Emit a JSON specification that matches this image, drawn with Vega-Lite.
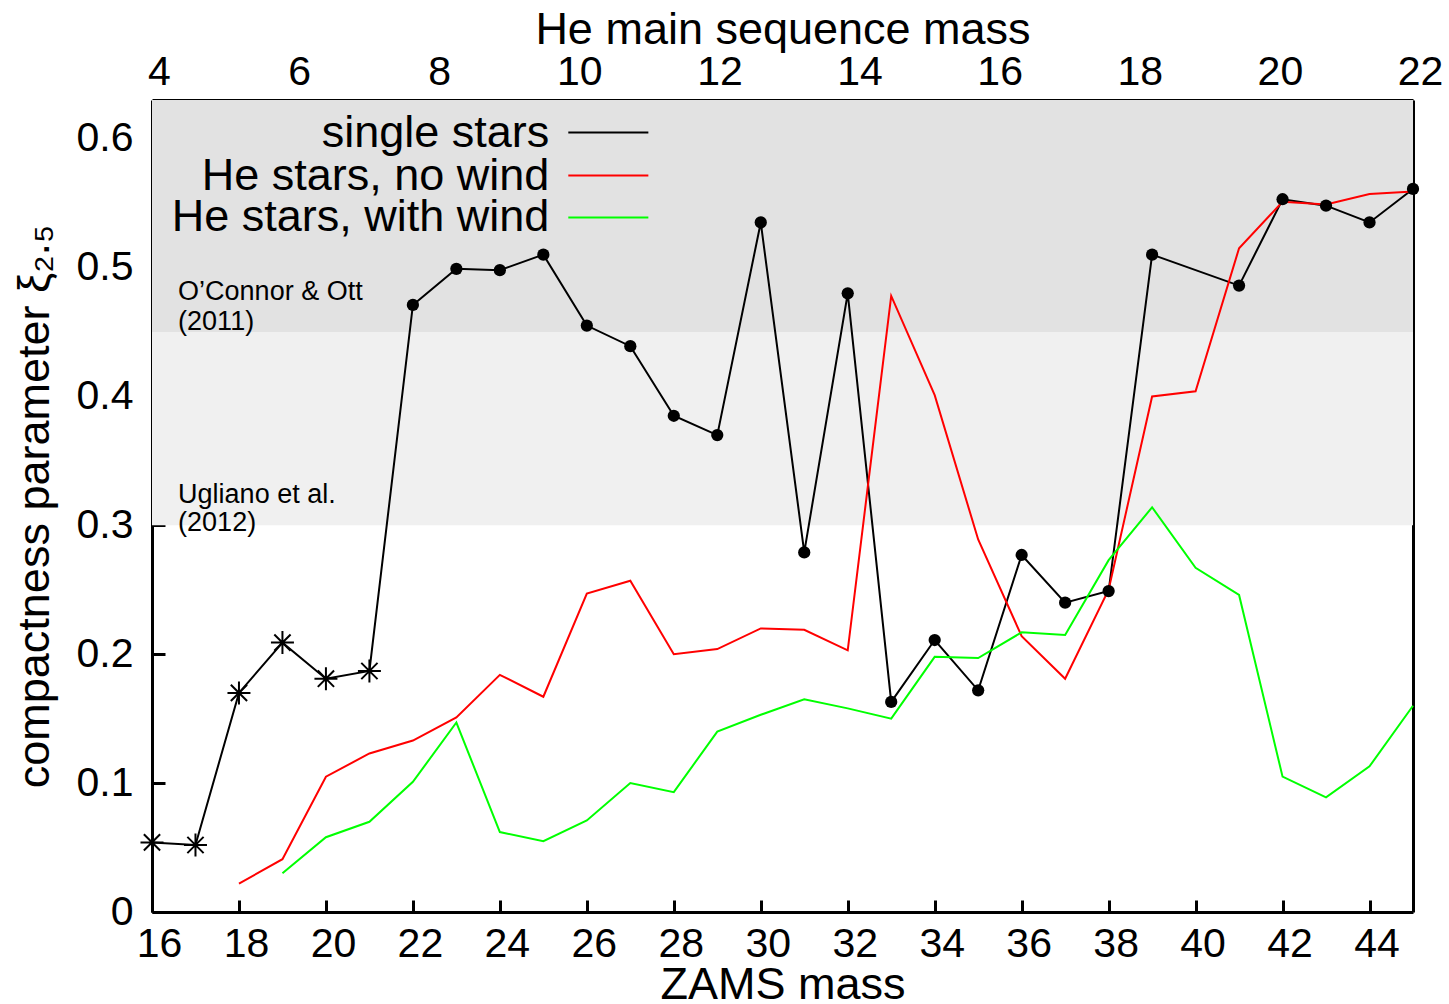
{
  "$schema": "https://vega.github.io/schema/vega-lite/v6.json",
  "width": 1261,
  "height": 812,
  "autosize": {"type": "none"},
  "padding": {"left": 152, "top": 100, "right": 36, "bottom": 92},
  "background": "white",
  "config": {
    "view": {"stroke": null},
    "font": "Liberation Sans",
    "axis": {
      "grid": false,
      "labelFont": "Liberation Sans",
      "titleFont": "Liberation Sans",
      "labelColor": "black",
      "titleColor": "black",
      "titleFontWeight": "normal",
      "domainColor": "black",
      "domainWidth": 3,
      "tickColor": "black",
      "tickWidth": 3,
      "zindex": 1
    },
    "text": {"font": "Liberation Sans", "color": "black"}
  },
  "datasets": {
    "curves": [
      {"m": 16, "xi": 0.054, "series": "single stars"},
      {"m": 17, "xi": 0.052, "series": "single stars"},
      {"m": 18, "xi": 0.170, "series": "single stars"},
      {"m": 19, "xi": 0.209, "series": "single stars"},
      {"m": 20, "xi": 0.181, "series": "single stars"},
      {"m": 21, "xi": 0.187, "series": "single stars"},
      {"m": 22, "xi": 0.471, "series": "single stars"},
      {"m": 23, "xi": 0.499, "series": "single stars"},
      {"m": 24, "xi": 0.498, "series": "single stars"},
      {"m": 25, "xi": 0.510, "series": "single stars"},
      {"m": 26, "xi": 0.455, "series": "single stars"},
      {"m": 27, "xi": 0.439, "series": "single stars"},
      {"m": 28, "xi": 0.385, "series": "single stars"},
      {"m": 29, "xi": 0.370, "series": "single stars"},
      {"m": 30, "xi": 0.535, "series": "single stars"},
      {"m": 31, "xi": 0.279, "series": "single stars"},
      {"m": 32, "xi": 0.480, "series": "single stars"},
      {"m": 33, "xi": 0.163, "series": "single stars"},
      {"m": 34, "xi": 0.211, "series": "single stars"},
      {"m": 35, "xi": 0.172, "series": "single stars"},
      {"m": 36, "xi": 0.277, "series": "single stars"},
      {"m": 37, "xi": 0.240, "series": "single stars"},
      {"m": 38, "xi": 0.249, "series": "single stars"},
      {"m": 39, "xi": 0.510, "series": "single stars"},
      {"m": 41, "xi": 0.486, "series": "single stars"},
      {"m": 42, "xi": 0.553, "series": "single stars"},
      {"m": 43, "xi": 0.548, "series": "single stars"},
      {"m": 44, "xi": 0.535, "series": "single stars"},
      {"m": 45, "xi": 0.561, "series": "single stars"},
      {"m": 18, "xi": 0.022, "series": "He stars, no wind"},
      {"m": 19, "xi": 0.041, "series": "He stars, no wind"},
      {"m": 20, "xi": 0.105, "series": "He stars, no wind"},
      {"m": 21, "xi": 0.123, "series": "He stars, no wind"},
      {"m": 22, "xi": 0.133, "series": "He stars, no wind"},
      {"m": 23, "xi": 0.151, "series": "He stars, no wind"},
      {"m": 24, "xi": 0.184, "series": "He stars, no wind"},
      {"m": 25, "xi": 0.167, "series": "He stars, no wind"},
      {"m": 26, "xi": 0.247, "series": "He stars, no wind"},
      {"m": 27, "xi": 0.257, "series": "He stars, no wind"},
      {"m": 28, "xi": 0.200, "series": "He stars, no wind"},
      {"m": 29, "xi": 0.204, "series": "He stars, no wind"},
      {"m": 30, "xi": 0.220, "series": "He stars, no wind"},
      {"m": 31, "xi": 0.219, "series": "He stars, no wind"},
      {"m": 32, "xi": 0.203, "series": "He stars, no wind"},
      {"m": 33, "xi": 0.478, "series": "He stars, no wind"},
      {"m": 34, "xi": 0.401, "series": "He stars, no wind"},
      {"m": 35, "xi": 0.289, "series": "He stars, no wind"},
      {"m": 36, "xi": 0.214, "series": "He stars, no wind"},
      {"m": 37, "xi": 0.181, "series": "He stars, no wind"},
      {"m": 38, "xi": 0.250, "series": "He stars, no wind"},
      {"m": 39, "xi": 0.400, "series": "He stars, no wind"},
      {"m": 40, "xi": 0.404, "series": "He stars, no wind"},
      {"m": 41, "xi": 0.515, "series": "He stars, no wind"},
      {"m": 42, "xi": 0.551, "series": "He stars, no wind"},
      {"m": 43, "xi": 0.549, "series": "He stars, no wind"},
      {"m": 44, "xi": 0.557, "series": "He stars, no wind"},
      {"m": 45, "xi": 0.559, "series": "He stars, no wind"},
      {"m": 19, "xi": 0.030, "series": "He stars, with wind"},
      {"m": 20, "xi": 0.058, "series": "He stars, with wind"},
      {"m": 21, "xi": 0.070, "series": "He stars, with wind"},
      {"m": 22, "xi": 0.101, "series": "He stars, with wind"},
      {"m": 23, "xi": 0.147, "series": "He stars, with wind"},
      {"m": 24, "xi": 0.062, "series": "He stars, with wind"},
      {"m": 25, "xi": 0.055, "series": "He stars, with wind"},
      {"m": 26, "xi": 0.071, "series": "He stars, with wind"},
      {"m": 27, "xi": 0.100, "series": "He stars, with wind"},
      {"m": 28, "xi": 0.093, "series": "He stars, with wind"},
      {"m": 29, "xi": 0.140, "series": "He stars, with wind"},
      {"m": 30, "xi": 0.153, "series": "He stars, with wind"},
      {"m": 31, "xi": 0.165, "series": "He stars, with wind"},
      {"m": 32, "xi": 0.158, "series": "He stars, with wind"},
      {"m": 33, "xi": 0.150, "series": "He stars, with wind"},
      {"m": 34, "xi": 0.198, "series": "He stars, with wind"},
      {"m": 35, "xi": 0.197, "series": "He stars, with wind"},
      {"m": 36, "xi": 0.217, "series": "He stars, with wind"},
      {"m": 37, "xi": 0.215, "series": "He stars, with wind"},
      {"m": 38, "xi": 0.273, "series": "He stars, with wind"},
      {"m": 39, "xi": 0.314, "series": "He stars, with wind"},
      {"m": 40, "xi": 0.267, "series": "He stars, with wind"},
      {"m": 41, "xi": 0.246, "series": "He stars, with wind"},
      {"m": 42, "xi": 0.105, "series": "He stars, with wind"},
      {"m": 43, "xi": 0.089, "series": "He stars, with wind"},
      {"m": 44, "xi": 0.113, "series": "He stars, with wind"},
      {"m": 45, "xi": 0.160, "series": "He stars, with wind"}
    ]
  },
  "layer": [
    {
      "layer": [
        {
          "data": {"values": [{}]},
          "mark": {"type": "rect", "color": "#e2e2e2"},
          "encoding": {
            "x": {"datum": 16, "type": "quantitative"},
            "x2": {"datum": 45},
            "y": {"datum": 0.45, "type": "quantitative"},
            "y2": {"datum": 0.63}
          }
        },
        {
          "data": {"values": [{}]},
          "mark": {"type": "rect", "color": "#f0f0f0"},
          "encoding": {
            "x": {"datum": 16, "type": "quantitative"},
            "x2": {"datum": 45},
            "y": {"datum": 0.3, "type": "quantitative"},
            "y2": {"datum": 0.45}
          }
        },
        {
          "data": {"values": [{}]},
          "mark": {"type": "text", "align": "left", "baseline": "alphabetic", "fontSize": 27, "lineBreak": "\n", "lineHeight": 30},
          "encoding": {
            "x": {"datum": 16.6, "type": "quantitative"},
            "y": {"datum": 0.4752, "type": "quantitative"},
            "text": {"value": "O’Connor & Ott\n(2011)"}
          }
        },
        {
          "data": {"values": [{}]},
          "mark": {"type": "text", "align": "left", "baseline": "alphabetic", "fontSize": 27, "lineBreak": "\n", "lineHeight": 28},
          "encoding": {
            "x": {"datum": 16.6, "type": "quantitative"},
            "y": {"datum": 0.3175, "type": "quantitative"},
            "text": {"value": "Ugliano et al.\n(2012)"}
          }
        },
        {
          "data": {"values": [{}]},
          "mark": {"type": "text", "align": "right", "baseline": "alphabetic", "fontSize": 45},
          "encoding": {
            "x": {"datum": 25.137, "type": "quantitative"},
            "y": {"datum": 0.5932, "type": "quantitative"},
            "text": {"value": "single stars"}
          }
        },
        {
          "data": {"values": [{}]},
          "mark": {"type": "text", "align": "right", "baseline": "alphabetic", "fontSize": 45},
          "encoding": {
            "x": {"datum": 25.137, "type": "quantitative"},
            "y": {"datum": 0.5602, "type": "quantitative"},
            "text": {"value": "He stars, no wind"}
          }
        },
        {
          "data": {"values": [{}]},
          "mark": {"type": "text", "align": "right", "baseline": "alphabetic", "fontSize": 45},
          "encoding": {
            "x": {"datum": 25.137, "type": "quantitative"},
            "y": {"datum": 0.528, "type": "quantitative"},
            "text": {"value": "He stars, with wind"}
          }
        },
        {
          "data": {"values": [{}]},
          "mark": {"type": "rule", "color": "#000000", "strokeWidth": 2},
          "encoding": {
            "x": {"datum": 25.574, "type": "quantitative"},
            "x2": {"datum": 27.415},
            "y": {"datum": 0.6048, "type": "quantitative"}
          }
        },
        {
          "data": {"values": [{}]},
          "mark": {"type": "rule", "color": "#ff0000", "strokeWidth": 2},
          "encoding": {
            "x": {"datum": 25.574, "type": "quantitative"},
            "x2": {"datum": 27.415},
            "y": {"datum": 0.5714, "type": "quantitative"}
          }
        },
        {
          "data": {"values": [{}]},
          "mark": {"type": "rule", "color": "#00ff00", "strokeWidth": 2},
          "encoding": {
            "x": {"datum": 25.574, "type": "quantitative"},
            "x2": {"datum": 27.415},
            "y": {"datum": 0.5388, "type": "quantitative"}
          }
        },
        {
          "data": {"name": "curves"},
          "mark": {"type": "line", "strokeWidth": 2},
          "encoding": {
            "x": {
              "field": "m", "type": "quantitative",
              "scale": {"domain": [16, 45], "nice": false, "zero": false},
              "axis": {
                "values": [16, 18, 20, 22, 24, 26, 28, 30, 32, 34, 36, 38, 40, 42, 44],
                "tickSize": -12,
                "labelPadding": 56,
                "labelBaseline": "alphabetic",
                "labelFontSize": 41,
                "labelOffset": 7,
                "labelFlush": false,
                "labelOverlap": false,
                "title": "ZAMS mass",
                "titleFontSize": 45,
                "titleX": 630.5,
                "titleY": 86,
                "titleBaseline": "alphabetic",
                "titleAlign": "center"
              }
            },
            "y": {
              "field": "xi", "type": "quantitative",
              "scale": {"domain": [0, 0.63], "nice": false, "zero": false},
              "axis": {
                "values": [0, 0.1, 0.2, 0.3, 0.4, 0.5, 0.6],
                "format": "~g",
                "tickSize": -13,
                "labelPadding": 32,
                "labelFontSize": 41,
                "labelBaseline": "middle",
                "labelOverlap": false,
                "title": "compactness parameter ξ₂.₅",
                "titleFontSize": 45,
                "titleAngle": -90,
                "titleX": -104,
                "titleY": 406,
                "titleBaseline": "alphabetic",
                "titleAlign": "center"
              }
            },
            "color": {
              "field": "series", "type": "nominal",
              "scale": {"domain": ["single stars", "He stars, no wind", "He stars, with wind"], "range": ["#000000", "#ff0000", "#00ff00"]},
              "legend": null
            }
          }
        },
        {
          "data": {"name": "curves"},
          "transform": [{"filter": "datum.series === 'single stars' && datum.m >= 22"}],
          "mark": {"type": "point", "filled": true, "color": "black", "size": 150, "opacity": 1, "strokeWidth": 0},
          "encoding": {
            "x": {"field": "m", "type": "quantitative"},
            "y": {"field": "xi", "type": "quantitative"}
          }
        },
        {
          "data": {"name": "curves"},
          "transform": [{"filter": "datum.series === 'single stars' && datum.m <= 21"}],
          "mark": {"type": "point", "filled": false, "stroke": "black", "strokeWidth": 2, "size": 529, "opacity": 1,
                   "shape": "M-1,0L1,0M0,-1L0,1M-0.7071,-0.7071L0.7071,0.7071M-0.7071,0.7071L0.7071,-0.7071"},
          "encoding": {
            "x": {"field": "m", "type": "quantitative"},
            "y": {"field": "xi", "type": "quantitative"}
          }
        }
      ]
    },
    {
      "data": {"values": [{"he": 4, "v": 0}, {"he": 22, "v": 0.63}]},
      "mark": {"type": "point", "opacity": 0},
      "encoding": {
        "x": {
          "field": "he", "type": "quantitative",
          "scale": {"domain": [4, 22], "nice": false, "zero": false},
          "axis": {
            "orient": "top",
            "values": [4, 6, 8, 10, 12, 14, 16, 18, 20, 22],
            "ticks": false,
            "labelFontSize": 41,
            "labelBaseline": "alphabetic",
            "labelPadding": 16,
            "labelOffset": 7,
            "labelFlush": false,
            "labelOverlap": false,
            "title": "He main sequence mass",
            "titleFontSize": 45,
            "titleX": 630.5,
            "titleY": -57,
            "titleBaseline": "alphabetic",
            "titleAlign": "center"
          }
        },
        "y": {
          "field": "v", "type": "quantitative",
          "scale": {"domain": [0, 0.63], "nice": false, "zero": false},
          "axis": {"orient": "right", "labels": false, "ticks": false, "title": null, "domain": true}
        }
      }
    }
  ],
  "resolve": {"scale": {"x": "independent", "y": "independent"}}
}
